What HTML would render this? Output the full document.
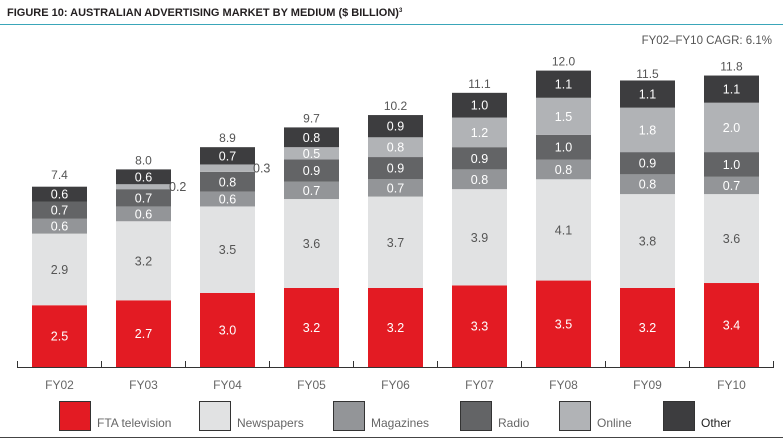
<!DOCTYPE html>
<html><head><meta charset="utf-8"><style>
body{margin:0;background:#fff;width:783px;height:443px;overflow:hidden;font-family:"Liberation Sans",sans-serif}
svg text{font-family:"Liberation Sans",sans-serif}
</style></head><body>
<svg id="chart" width="783" height="443" viewBox="0 0 783 443" xmlns="http://www.w3.org/2000/svg">
<text x="7" y="16" font-size="11" font-weight="bold" fill="#231f20">FIGURE 10: AUSTRALIAN ADVERTISING MARKET BY MEDIUM ($ BILLION)<tspan font-size="6" dy="-4">3</tspan></text>
<line x1="0" y1="24.5" x2="783" y2="24.5" stroke="#3aa6b9" stroke-width="1"/>
<text x="772" y="44" font-size="11.5" fill="#555" text-anchor="end">FY02–FY10 CAGR: 6.1%</text>
<g id="bars"></g>
<g id="legend"></g>
<line x1="0" y1="437.5" x2="783" y2="437.5" stroke="#444" stroke-width="1"/>
</svg>
<script>
const categories=["FY02","FY03","FY04","FY05","FY06","FY07","FY08","FY09","FY10"];
const seriesNames=["FTA television","Newspapers","Magazines","Radio","Online","Other"];
const fta=[2.5,2.7,3.0,3.2,3.2,3.3,3.5,3.2,3.4];
const newspapers=[2.9,3.2,3.5,3.6,3.7,3.9,4.1,3.8,3.6];
const magazines=[0.6,0.6,0.6,0.7,0.7,0.8,0.8,0.8,0.7];
const radio=[0.7,0.7,0.8,0.9,0.9,0.9,1.0,0.9,1.0];
const online=[0,0.2,0.3,0.5,0.8,1.2,1.5,1.8,2.0];
const other=[0.6,0.6,0.7,0.8,0.9,1.0,1.1,1.1,1.1];
const totals=[7.4,8.0,8.9,9.7,10.2,11.1,12.0,11.5,11.8];

const series=[fta,newspapers,magazines,radio,online,other];
const colors=["#e31b23","#e1e2e3","#939598","#636466","#b1b3b6","#3d3d3f"];
const labelColors=["#fff","#555","#fff","#fff","#fff","#fff"];
const NS="http://www.w3.org/2000/svg";
const base=367, pxPerUnit=24.7, x0=32, pitch=84, bw=55;
const yScale=v=>base-v*pxPerUnit;
const xScale=i=>x0+i*pitch;
const g=document.getElementById('bars');
function mk(tag,attrs,parent){const e=document.createElementNS(NS,tag);for(const k in attrs)e.setAttribute(k,attrs[k]);parent.appendChild(e);return e;}

categories.forEach((c,i)=>{
  let cum=0;
  series.forEach((s,j)=>{
    const v=s[i];
    if(v<=0)return;
    const y1=yScale(cum+v), y0=yScale(cum);
    const r=mk('rect',{x:xScale(i),y:y1,width:bw,height:y0-y1,fill:colors[j]},g);
    
    
    if(v>=0.4){
      const t=mk('text',{x:xScale(i)+bw/2,y:(y0+y1)/2+4.5,'font-size':12.5,fill:labelColors[j],'text-anchor':'middle'},g);
      t.textContent=v.toFixed(1);
      
      
    } else {
      const t=mk('text',{x:xScale(i)+bw-2,y:(y0+y1)/2+4.5,'font-size':12.5,fill:'#555'},g);
      t.textContent=v.toFixed(1);
      
      
    }
    cum+=v;
  });
  const tt=mk('text',{x:xScale(i)+bw/2,y:yScale(totals[i])-5,'font-size':12,fill:'#555','text-anchor':'middle'},g);
  tt.textContent=totals[i].toFixed(1);
  
  
  const xl=mk('text',{x:xScale(i)+bw/2,y:389,'font-size':12,fill:'#666','text-anchor':'middle'},g);
  xl.textContent=c;
  
  
});
const ax=mk('line',{x1:17,y1:base+0.5,x2:774,y2:base+0.5,stroke:'#333','stroke-width':1},g);


for(let i=0;i<=categories.length;i++){
  const tx=xScale(i)-14.5;
  const tk=mk('line',{x1:tx,y1:base-6,x2:tx,y2:base,stroke:'#333','stroke-width':1},g);
  
  
}
const lg=document.getElementById('legend');
const lx=[59,199,333,460,559,663];
seriesNames.forEach((n,j)=>{
  const r=mk('rect',{x:lx[j]+0.5,y:401.5,width:31,height:29,fill:colors[j],stroke:'#333','stroke-width':1},lg);
  
  
  const t=mk('text',{x:lx[j]+38,y:427,'font-size':12,fill:j==5?'#222':'#666'},lg);
  t.textContent=n;
  
  
});
</script>
</body></html>
